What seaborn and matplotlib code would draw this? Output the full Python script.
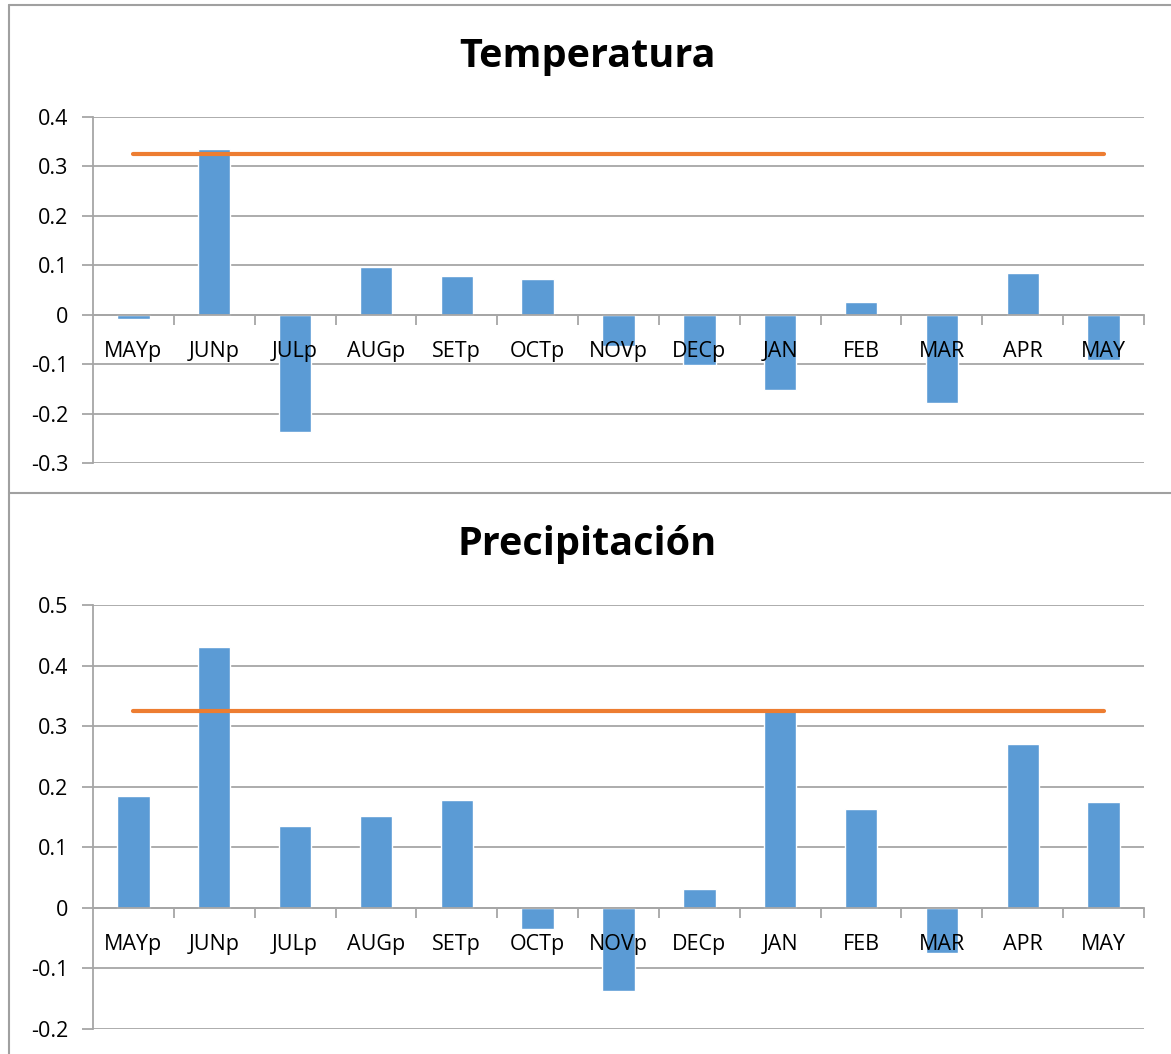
import matplotlib
matplotlib.use("Agg")
import matplotlib.pyplot as plt
from matplotlib.lines import Line2D
from matplotlib.ticker import FixedLocator
import seaborn as sns

# data
months = ["MAYp", "JUNp", "JULp", "AUGp", "SETp", "OCTp", "NOVp",
          "DECp", "JAN", "FEB", "MAR", "APR", "MAY"]
temperatura = [-0.008, 0.335, -0.237, 0.096, 0.079, 0.073, -0.064,
               -0.101, -0.153, 0.026, -0.179, 0.085, -0.092]
precipitacion = [0.184, 0.431, 0.135, 0.151, 0.178, -0.035, -0.138,
                 0.031, 0.328, 0.163, -0.074, 0.271, 0.175]
umbral = 0.325

BAR = "#5B9BD5"
LINE = "#ED7D31"
GRID = "#A6A6A6"
FONT = ["Open Sans", "DejaVu Sans"]

sns.set_style("white")
plt.rcParams["font.family"] = FONT
plt.rcParams["text.color"] = "black"
plt.rcParams["ytick.labelcolor"] = "black"

fig = plt.figure(figsize=(11.71, 10.54), dpi=100)


def panel(rect, values, title, ylim, yticks, title_y):
    ax = fig.add_axes(rect)
    sns.barplot(x=months, y=values, color=BAR, width=0.4,
                saturation=1, ax=ax, zorder=2)
    sns.lineplot(x=list(range(len(months))), y=[umbral] * len(months),
                 color=LINE, linewidth=3, ax=ax, zorder=3)
    ax.set_ylim(*ylim)
    ax.set_xlim(-0.5, len(months) - 0.5)
    ax.set_yticks(yticks)
    ax.set_yticklabels([f"{t:g}" for t in yticks], fontsize=15.5,
                       color="black")
    ax.yaxis.grid(True, color=GRID, linewidth=1.3, zorder=0)
    ax.set_axisbelow(True)
    for s in ["top", "right"]:
        ax.spines[s].set_visible(False)
    ax.spines["left"].set_color(GRID)
    ax.spines["left"].set_linewidth(1.3)
    ax.spines["bottom"].set_position(("data", 0))
    ax.spines["bottom"].set_color(GRID)
    ax.spines["bottom"].set_linewidth(1.3)
    ax.tick_params(axis="y", length=8, width=1.3, color=GRID, pad=10,
                   left=True)
    ax.set_xticks(range(len(months)))
    ax.set_xticklabels([])
    ax.tick_params(axis="x", which="major", length=0)
    ax.xaxis.set_minor_locator(
        FixedLocator([i - 0.5 for i in range(1, len(months) + 1)]))
    ax.tick_params(axis="x", which="minor", length=7, width=1.3,
                   color=GRID, direction="out", bottom=True)
    for i, m in enumerate(months):
        ax.annotate(m, xy=(i, 0), xytext=(0, -37), textcoords="offset pixels",
                    ha="center", va="center", fontsize=15.5, color="black",
                    zorder=5)
    ax.set_xlabel("")
    ax.set_ylabel("")
    fig.text(587 / 1171, 1 - title_y / 1054, title, ha="center",
             va="center", fontsize=28.5, fontweight="bold", color="black")
    return ax


panel([93 / 1171, 1 - 463 / 1054, 1051 / 1171, 346 / 1054],
      temperatura, "Temperatura", (-0.3, 0.4),
      [-0.3, -0.2, -0.1, 0, 0.1, 0.2, 0.3, 0.4], 57)
panel([93 / 1171, 1 - 1029 / 1054, 1051 / 1171, 424 / 1054],
      precipitacion, "Precipitación", (-0.2, 0.5),
      [-0.2, -0.1, 0, 0.1, 0.2, 0.3, 0.4, 0.5], 545)

# chart frames (Excel style borders)
bc = "#A0A0A0"
fig.add_artist(Line2D([9 / 1171, 1], [1 - 5 / 1054, 1 - 5 / 1054],
                      color=bc, linewidth=1.5, transform=fig.transFigure))
fig.add_artist(Line2D([9 / 1171, 9 / 1171], [0, 1 - 5 / 1054],
                      color=bc, linewidth=1.5, transform=fig.transFigure))
fig.add_artist(Line2D([9 / 1171, 1], [1 - 493 / 1054, 1 - 493 / 1054],
                      color=bc, linewidth=1.5, transform=fig.transFigure))

fig.savefig("out.png", dpi=100)
